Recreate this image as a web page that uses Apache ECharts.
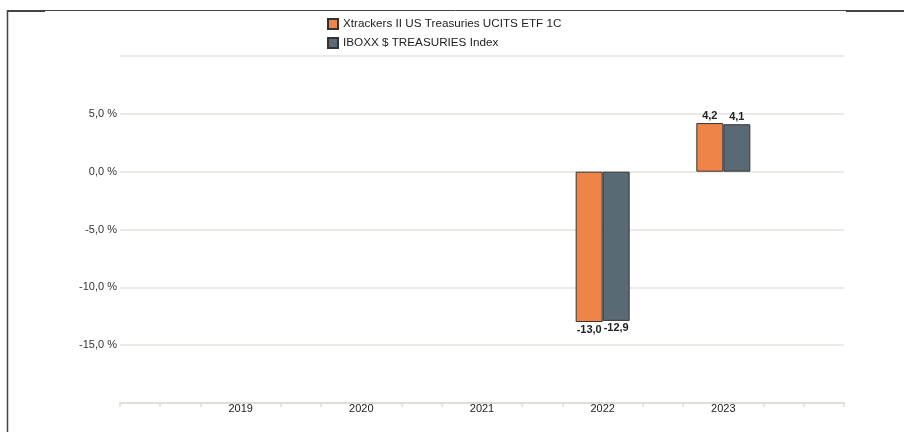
<!DOCTYPE html>
<html>
<head>
<meta charset="utf-8">
<script src="https://cdn.jsdelivr.net/npm/echarts@6/dist/echarts.min.js"></script>
<style>
  html, body { margin: 0; padding: 0; background: #fff; }
  #chart { width: 904px; height: 432px; }
</style>
</head>
<body>
<div id="chart"></div>
<script>
var years = ['2019', '2020', '2021', '2022', '2023'];
var fundName = 'Xtrackers II US Treasuries UCITS ETF 1C';
var indexName = 'IBOXX $ TREASURIES Index';
var fundValues = [null, null, null, -13.0, 4.2];
var indexValues = [null, null, null, -12.9, 4.1];
var yTicks = [-20, -15, -10, -5, 0, 5, 10];

// axis has 3 slots per year, plus an empty year on each side
var slots = [];
for (var k = 0; k <= (years.length + 1) * 3; k++) slots.push('');
years.forEach(function (y, i) { slots[3 + i * 3] = y; });

function toSlots(vals) {
    var out = slots.map(function () { return null; });
    vals.forEach(function (v, i) {
        if (v === null) return;
        out[3 + i * 3] = {
            value: v,
            label: { position: v < 0 ? 'bottom' : 'top' }
        };
    });
    return out;
}

function fmt(v) {
    return v.toFixed(1).replace('.', ',');
}

var barLabel = {
    show: true,
    distance: 2,
    color: '#222',
    fontWeight: 'bold',
    fontSize: 11,
    fontFamily: 'Liberation Sans',
    formatter: function (p) { return fmt(p.value); }
};

var chart = echarts.init(document.getElementById('chart'));
chart.setOption({
    animation: false,
    backgroundColor: '#fff',
    textStyle: { fontFamily: 'Liberation Sans' },
    legend: {
        orient: 'vertical',
        left: 322,
        top: 13,
        itemWidth: 10,
        itemHeight: 10,
        itemGap: 7,
        icon: 'rect',
        textStyle: { fontSize: 11.7, color: '#222', fontFamily: 'Liberation Sans' },
        data: [fundName, indexName]
    },
    grid: { left: 120, right: 60, top: 56, bottom: 29, containLabel: false },
    xAxis: {
        type: 'category',
        data: slots,
        boundaryGap: false,
        axisLine: { onZero: false, lineStyle: { color: '#e0ddd4', width: 2 } },
        axisTick: {
            show: true,
            length: 4,
            interval: function (idx, val) { return val === ''; },
            lineStyle: { color: '#e0ddd4', width: 1.5 }
        },
        axisLabel: {
            interval: 0,
            margin: 0,
            fontSize: 11,
            color: '#222'
        },
        splitLine: { show: false }
    },
    yAxis: {
        type: 'value',
        min: yTicks[0],
        max: yTicks[yTicks.length - 1],
        interval: 5,
        axisLine: { show: false },
        axisTick: { show: false },
        axisLabel: {
            margin: 3,
            fontSize: 11,
            color: '#333',
            formatter: function (v) {
                if (v === yTicks[0] || v === yTicks[yTicks.length - 1]) return '';
                return fmt(v) + ' %';
            }
        },
        splitLine: { lineStyle: { color: '#e6e3dc', width: 1.5 } }
    },
    series: [{
        name: fundName,
        type: 'bar',
        barWidth: 27,
        barGap: '0%',
        itemStyle: { color: '#ef8449', borderColor: '#333', borderWidth: 1 },
        label: barLabel,
        data: toSlots(fundValues)
    }, {
        name: indexName,
        type: 'bar',
        barWidth: 27,
        barGap: '0%',
        itemStyle: { color: '#5a6a74', borderColor: '#333', borderWidth: 1 },
        label: barLabel,
        data: toSlots(indexValues)
    }],
    graphic: [
        { type: 'line', shape: { x1: 7, y1: 10.5, x2: 904, y2: 10.5 }, style: { stroke: '#444', lineWidth: 1 } },
        { type: 'line', shape: { x1: 7, y1: 11, x2: 45, y2: 11 }, style: { stroke: '#444', lineWidth: 2 } },
        { type: 'line', shape: { x1: 846, y1: 11, x2: 904, y2: 11 }, style: { stroke: '#444', lineWidth: 2 } },
        { type: 'line', shape: { x1: 7.5, y1: 10, x2: 7.5, y2: 432 }, style: { stroke: '#444', lineWidth: 1.5 } }
    ]
});
</script>
</body>
</html>
